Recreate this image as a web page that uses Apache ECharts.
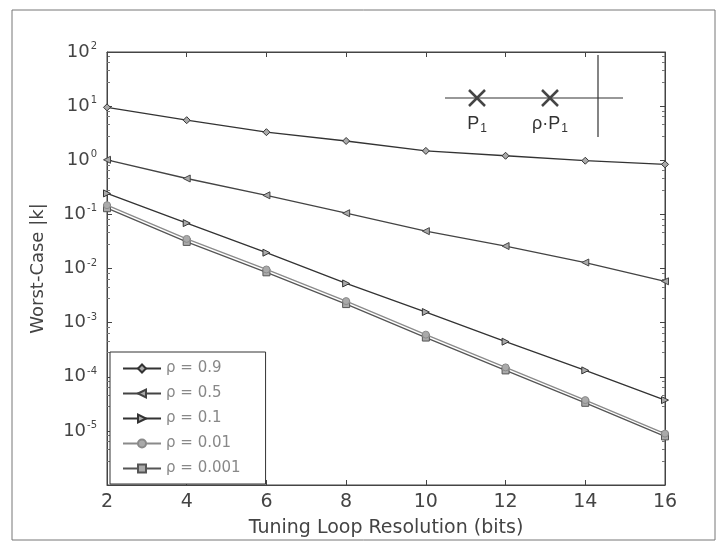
<!DOCTYPE html>
<html><head><meta charset="utf-8">
<script src="https://cdn.jsdelivr.net/npm/echarts@6/dist/echarts.min.js"></script>
<style>html,body{margin:0;padding:0;background:#fff}#c{width:724px;height:543px}</style>
</head><body><div id="c"></div>
<script>
const bits = [2, 4, 6, 8, 10, 12, 14, 16];
const rho09 = [9.5, 5.5, 3.3, 2.27, 1.49, 1.21, 0.98, 0.84];
const rho05 = [1.02, 0.46, 0.225, 0.105, 0.049, 0.026, 0.0129, 0.0058];
const rho01 = [0.244, 0.069, 0.0196, 0.0053, 0.00157, 0.000445, 0.000131, 3.7e-5];
const rho001 = [0.148, 0.0352, 0.0096, 0.0025, 0.0006, 0.000149, 3.7e-5, 8.9e-6];
const rho0001 = [0.13, 0.031, 0.0085, 0.0022, 0.00053, 0.000131, 3.3e-5, 7.9e-6];
const seriesNames = ['ρ = 0.9', 'ρ = 0.5', 'ρ = 0.1', 'ρ = 0.01', 'ρ = 0.001'];
const xTicks = [2, 4, 6, 8, 10, 12, 14, 16];
const yMinExp = -6, yMaxExp = 2;

const font = 'DejaVu Sans, Liberation Sans, sans-serif';
const pair = (ys) => bits.map((b, i) => [b, ys[i]]);
const symbols = ['diamond', 'triangle', 'triangle', 'circle', 'rect'];
const rotations = [0, 90, -90, 0, 0];
const lineColors = ['#333', '#444', '#333', '#8a8a8a', '#555'];
const allData = [rho09, rho05, rho01, rho001, rho0001];

const chart = echarts.init(document.getElementById('c'));
const series = allData.map((d, i) => ({
  name: seriesNames[i], type: 'line', data: pair(d),
  symbol: symbols[i], symbolRotate: rotations[i], symbolSize: 7,
  lineStyle: {color: lineColors[i], width: 1.3},
  itemStyle: {color: '#aaa', borderColor: lineColors[i], borderWidth: 1},
  z: 5 - i
}));

const yLabel = (v) => {
  const e = Math.round(Math.log10(v));
  if (e === yMinExp) return '';
  return '{b|10}{s|' + e + '}';
};

chart.setOption({
  animation: false,
  grid: {left: 107, right: 59, top: 52, bottom: 53, show: true, borderColor: '#444', borderWidth: 1},
  xAxis: [{
    type: 'value', min: 2, max: 16, interval: 2,
    name: 'Tuning Loop Resolution (bits)', nameLocation: 'middle', nameGap: 34,
    nameTextStyle: {fontFamily: font, fontSize: 19, color: '#444'},
    axisLine: {lineStyle: {color: '#444'}},
    axisTick: {inside: true, length: 5, lineStyle: {color: '#444'}},
    axisLabel: {fontFamily: font, fontSize: 19, color: '#444', margin: 8,
      formatter: (v) => xTicks.includes(v) ? String(v) : ''},
    splitLine: {show: false}
  }, {
    type: 'value', min: 2, max: 16, interval: 2, position: 'top',
    axisLine: {lineStyle: {color: '#444'}},
    axisTick: {inside: true, length: 5, lineStyle: {color: '#444'}},
    axisLabel: {show: false}, splitLine: {show: false}
  }],
  yAxis: [{
    type: 'log', logBase: 10, min: Math.pow(10, yMinExp), max: Math.pow(10, yMaxExp),
    name: 'Worst-Case |k|', nameLocation: 'middle', nameGap: 60,
    nameTextStyle: {fontFamily: font, fontSize: 18, color: '#444'},
    axisLine: {lineStyle: {color: '#444'}},
    axisTick: {inside: true, length: 5, lineStyle: {color: '#444'}},
    minorTick: {show: true, splitNumber: 5, length: 3, lineStyle: {color: '#777'}},
    axisLabel: {formatter: yLabel, margin: 10, rich: {
      b: {fontFamily: font, fontSize: 18, color: '#444'},
      s: {fontFamily: font, fontSize: 10, color: '#444', verticalAlign: 'bottom', padding: [0, 0, 11, 1]}
    }},
    splitLine: {show: false}
  }, {
    type: 'log', logBase: 10, min: Math.pow(10, yMinExp), max: Math.pow(10, yMaxExp), position: 'right',
    axisLine: {lineStyle: {color: '#444'}},
    axisTick: {inside: true, length: 5, lineStyle: {color: '#444'}},
    minorTick: {show: true, splitNumber: 5, length: 3, lineStyle: {color: '#777'}},
    axisLabel: {show: false}, splitLine: {show: false}
  }],
  legend: {
    orient: 'vertical', left: 110, top: 352,
    data: seriesNames,
    itemWidth: 38, itemHeight: 10, itemGap: 10,
    padding: [9, 25, 8, 12],
    borderColor: '#333', borderWidth: 1, backgroundColor: '#fff',
    textStyle: {fontFamily: font, fontSize: 15, color: '#888'}
  },
  graphic: [
    {type: 'rect', shape: {x: 12, y: 10, width: 703, height: 530}, style: {fill: 'none', stroke: '#777', lineWidth: 1}, z: -1, silent: true},
    {type: 'line', shape: {x1: 445, y1: 98, x2: 623, y2: 98}, style: {stroke: '#333', lineWidth: 1.2}},
    {type: 'line', shape: {x1: 598, y1: 55, x2: 598, y2: 137}, style: {stroke: '#333', lineWidth: 1.2}},
    {type: 'line', shape: {x1: 469, y1: 90, x2: 485, y2: 106}, style: {stroke: '#444', lineWidth: 2.5}},
    {type: 'line', shape: {x1: 485, y1: 90, x2: 469, y2: 106}, style: {stroke: '#444', lineWidth: 2.5}},
    {type: 'line', shape: {x1: 542, y1: 90, x2: 558, y2: 106}, style: {stroke: '#444', lineWidth: 2.5}},
    {type: 'line', shape: {x1: 558, y1: 90, x2: 542, y2: 106}, style: {stroke: '#444', lineWidth: 2.5}},
    {type: 'text', x: 477, y: 124, style: {text: '{m|P}{s|1}', align: 'center', verticalAlign: 'middle',
      rich: {m: {fontFamily: 'Liberation Sans, sans-serif', fontSize: 18, fill: '#333'}, s: {fontFamily: 'Liberation Sans, sans-serif', fontSize: 12, fill: '#333', padding: [10, 0, 0, 1]}}}},
    {type: 'text', x: 550, y: 124, style: {text: '{m|ρ·P}{s|1}', align: 'center', verticalAlign: 'middle',
      rich: {m: {fontFamily: 'Liberation Sans, sans-serif', fontSize: 18, fill: '#333'}, s: {fontFamily: 'Liberation Sans, sans-serif', fontSize: 12, fill: '#333', padding: [10, 0, 0, 1]}}}}
  ],
  series: series
});
</script></body></html>
